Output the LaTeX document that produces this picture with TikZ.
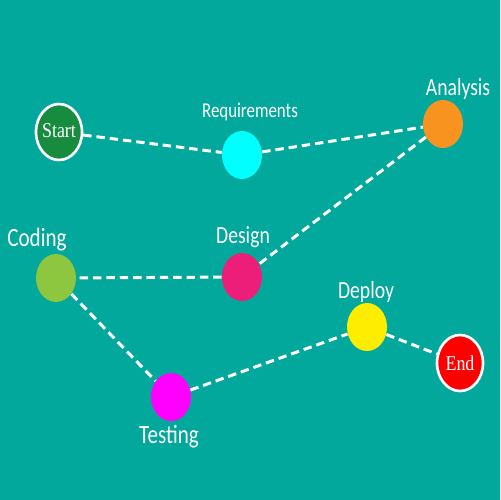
\documentclass[tikz,border=0pt]{standalone}
\usepackage{fontspec}
\usetikzlibrary{shapes.geometric}
\newfontfamily\labfont[FakeStretch=0.8]{Carlito}
\newfontfamily\termfont[FakeStretch=0.85]{Liberation Serif}
\definecolor{bg}{RGB}{2,168,155}
\definecolor{cstart}{RGB}{24,140,62}
\definecolor{creq}{RGB}{0,255,255}
\definecolor{cana}{RGB}{247,147,30}
\definecolor{cdes}{RGB}{237,30,121}
\definecolor{ccod}{RGB}{141,198,63}
\definecolor{ctest}{RGB}{255,0,255}
\definecolor{cdep}{RGB}{255,237,0}
\definecolor{cend}{RGB}{255,0,0}
\tikzset{
  stage/.style={ellipse, inner sep=0pt, minimum width=0.8cm, minimum height=0.96cm},
  term/.style={ellipse, inner sep=0pt, minimum width=0.92cm, minimum height=1.12cm, draw=white, line width=1.5pt},
  termtext/.style={text=white, anchor=base, inner sep=0pt, font=\termfont\fontsize{12}{14}\selectfont},
  lab/.style={text=white, anchor=base, inner sep=0pt, font=\labfont\fontsize{14}{16}\selectfont},
  biglab/.style={lab, font=\labfont\fontsize{15}{17}\selectfont},
  link/.style={draw=white, line width=1.7pt, dash pattern=on 4.8pt off 2.8pt}
}
\begin{document}
\begin{tikzpicture}[x=0.02cm,y=-0.02cm]
\fill[bg] (0,0) rectangle (500,500);
\useasboundingbox (0,0) rectangle (500,500);
\node[term, fill=cstart] (start) at (59,132) {};
\node[stage, fill=creq] (req) at (242,155) {};
\node[stage, fill=cana] (ana) at (443,124) {};
\node[stage, fill=cdes] (des) at (242,277) {};
\node[stage, fill=ccod] (cod) at (56,278) {};
\node[stage, fill=ctest] (test) at (171,397) {};
\node[stage, fill=cdep] (dep) at (367,327) {};
\node[term, fill=cend] (end) at (460,363) {};
\node[termtext] (startt) at (59,137) {Start};
\node[termtext] (endt) at (460,370) {End};
\node[lab, font=\labfont\fontsize{12}{14}\selectfont] (reql) at (250,117) {Requirements};
\node[lab] (anal) at (458,95) {Analysis};
\node[lab] (desl) at (243,243) {Design};
\node[biglab] (codl) at (37,246) {Coding};
\node[biglab] (testl) at (169,443) {Testing};
\node[lab] (depl) at (366,298) {Deploy};
\draw[link] (start) -- (req);
\draw[link] (req) -- (ana);
\draw[link] (ana) -- (des);
\draw[link] (des) -- (cod);
\draw[link] (cod) -- (test);
\draw[link] (test) -- (dep);
\draw[link] (dep) -- (end);
\end{tikzpicture}
\end{document}
